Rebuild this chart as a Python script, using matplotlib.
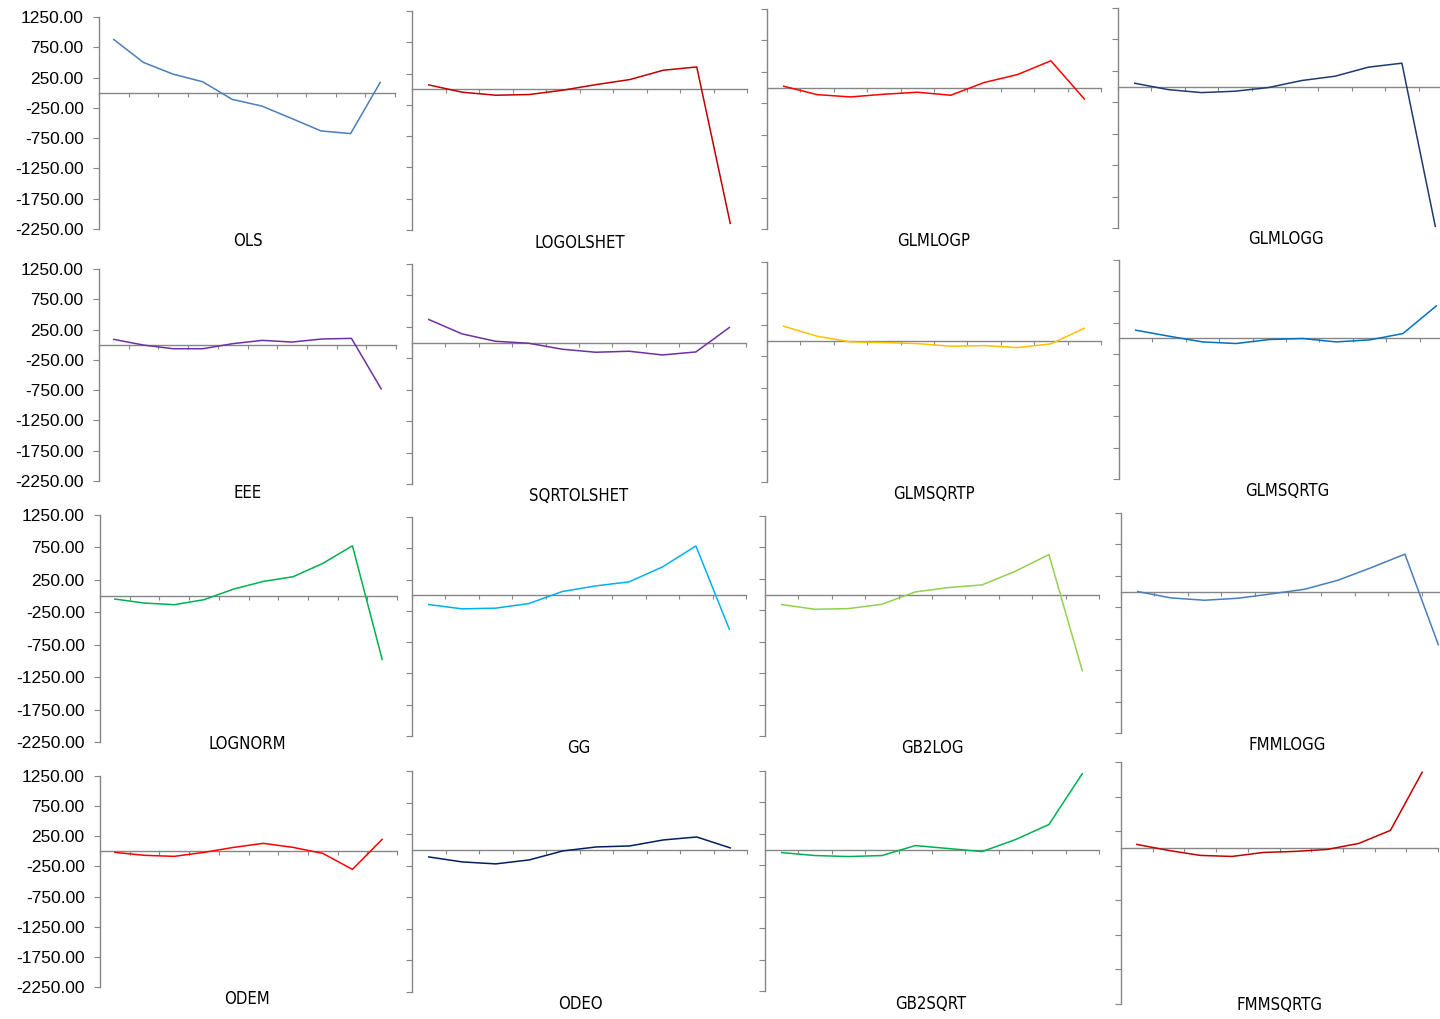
import matplotlib
matplotlib.use("Agg")
import matplotlib.pyplot as plt
import numpy as np

W, H = 1440, 1019

# model names, one small panel each (row by row)
models = ["OLS", "LOGOLSHET", "GLMLOGP", "GLMLOGG",
          "EEE", "SQRTOLSHET", "GLMSQRTP", "GLMSQRTG",
          "LOGNORM", "GG", "GB2LOG", "FMMLOGG",
          "ODEM", "ODEO", "GB2SQRT", "FMMSQRTG"]

# deviation per decile, 10 groups per model
ols = [878, 500, 307, 181, -110, -220, -423, -631, -675, 170]
logolshet = [69, -48, -96, -85, -16, 74, 154, 303, 356, -2144]
glmlogp = [21, -112, -149, -106, -74, -122, 80, 207, 426, -181]
glmlogg = [53, -48, -96, -74, -16, 96, 165, 309, 372, -2224]
eee = [88, -6, -66, -66, 17, 72, 44, 94, 105, -727]
sqrtolshet = [367, 138, 21, -11, -106, -154, -138, -197, -149, 239]
glmsqrtp = [228, 69, -21, -32, -48, -90, -80, -111, -53, 196]
glmsqrtg = [128, 32, -59, -85, -21, -5, -59, -27, 74, 516]
lognorm = [-46, -108, -133, -56, 108, 226, 298, 503, 775, -975]
gg = [-149, -218, -207, -133, 59, 149, 213, 452, 787, -543]
gb2log = [-159, -234, -223, -154, 42, 112, 154, 372, 637, -1211]
fmmlogg = [0, -101, -138, -106, -37, 37, 181, 382, 595, -844]
odem = [-17, -66, -83, -17, 66, 133, 66, -33, -299, 199]
odeo = [-111, -190, -221, -158, -16, 47, 63, 158, 205, 32]
gb2sqrt = [-48, -95, -111, -95, 64, 16, -32, 159, 398, 1208]
fmmsqrtg = [58, -29, -101, -116, -58, -43, -15, 72, 261, 1102]

series = [ols, logolshet, glmlogp, glmlogg,
          eee, sqrtolshet, glmsqrtp, glmsqrtg,
          lognorm, gg, gb2log, fmmlogg,
          odem, odeo, gb2sqrt, fmmsqrtg]

colors = ["#4a7ebb", "#c00000", "#ff0000", "#1f3a6e",
          "#7030a0", "#7030a0", "#ffc000", "#0070c0",
          "#00b050", "#00b0f0", "#92d050", "#4a7ebb",
          "#ff0000", "#002060", "#00b050", "#c00000"]

yticks = [1250, 750, 250, -250, -750, -1250, -1750, -2250]

# panel boxes in pixels: left, right, top, bottom
boxes = [(99, 395, 17, 229), (412, 747, 11, 230), (767, 1101, 9, 229), (1118, 1452, 8, 228),
         (99, 396, 269, 481), (412, 746, 264, 484), (767, 1101, 262, 482), (1119, 1453, 260, 479),
         (100, 397, 515, 742), (412, 746, 517, 736), (765, 1099, 516, 736), (1121, 1455, 513, 733),
         (100, 397, 776, 987), (412, 747, 771, 992), (765, 1099, 771, 991), (1121, 1438, 762, 1004)]

# label centres in pixels
label_pos = [(248, 241), (580, 243), (934, 241), (1286, 239),
             (248, 493), (579, 496), (934, 494), (1287, 491),
             (247, 744), (579, 748), (932, 748), (1287, 745),
             (247, 999), (580, 1004), (931, 1004), (1280, 1005)]

axis_grey = "#868686"

fig = plt.figure(figsize=(W / 100, H / 100), dpi=100)
fig.patch.set_facecolor("white")

for i, (name, vals) in enumerate(zip(models, series)):
    l, r, t, b = boxes[i]
    ax = fig.add_axes([l / W, 1 - b / H, (r - l) / W, (b - t) / H])
    x = np.arange(len(vals)) + 0.5
    ax.plot(x, vals, color=colors[i], lw=1.1, zorder=3)
    ax.set_xlim(0, len(vals))
    ax.set_ylim(-2250, 1250)

    for s in ["top", "right"]:
        ax.spines[s].set_visible(False)
    ax.spines["left"].set_color(axis_grey)
    ax.spines["left"].set_linewidth(1.0)
    # category axis runs along zero
    ax.spines["bottom"].set_position(("data", 0))
    ax.spines["bottom"].set_color(axis_grey)
    ax.spines["bottom"].set_linewidth(1.0)

    ax.set_yticks(yticks)
    ax.set_xticks(np.arange(len(vals) + 1))
    ax.tick_params(axis="x", direction="out", length=3, width=0.8,
                   colors=axis_grey, labelbottom=False)
    ax.tick_params(axis="y", direction="out", length=4, width=0.8,
                   colors=axis_grey, pad=7)
    if i % 4 == 0:
        ax.set_yticklabels([f"{v:.2f}" for v in yticks],
                           fontsize=12.5, color="black", family="Liberation Sans")
    else:
        ax.set_yticklabels([])
    ax.patch.set_alpha(0)

    cx, cy = label_pos[i]
    fig.text(cx / W, 1 - cy / H, name, ha="center", va="center",
             fontsize=12, color="black", family="DejaVu Sans",
             fontstretch="condensed")

fig.savefig("out.png", dpi=100, facecolor="white")
